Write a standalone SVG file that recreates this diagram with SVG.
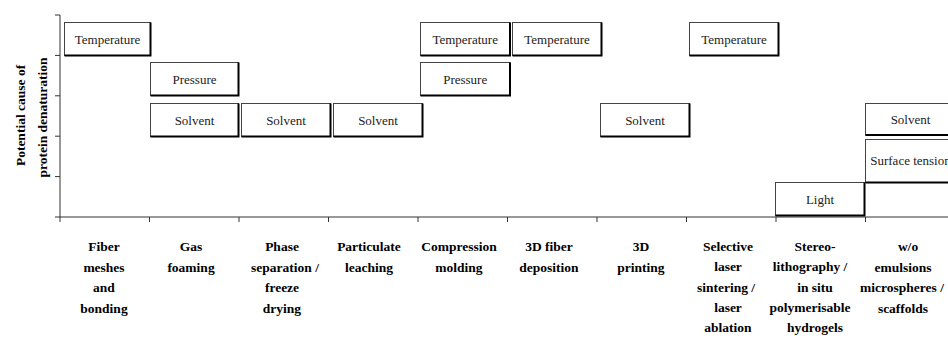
<svg xmlns="http://www.w3.org/2000/svg" width="948" height="340" viewBox="0 0 948 340" font-family="Liberation Serif, Times New Roman, DejaVu Serif, serif">
<style>
.bg{fill:#fff}
.box rect{fill:#fff;stroke:#444;stroke-width:1}
.box path{fill:none;stroke:#000;stroke-width:2}
.box text{font-size:13px;fill:#222;text-anchor:middle}
.axis line{stroke:#333;stroke-width:1}
.cat text{font-size:13.5px;font-weight:bold;fill:#000;text-anchor:middle}
.ylab{font-size:13.5px;font-weight:bold;fill:#000;text-anchor:middle}
</style>
<rect class="bg" x="0" y="0" width="948" height="340"/>
<g id="axes" class="axis">
<line x1="60" y1="15" x2="60" y2="217"/>
<line x1="60" y1="217" x2="948" y2="217"/>
<line x1="55" y1="15" x2="60" y2="15"/>
<line x1="55" y1="55.4" x2="60" y2="55.4"/>
<line x1="55" y1="95.8" x2="60" y2="95.8"/>
<line x1="55" y1="136.2" x2="60" y2="136.2"/>
<line x1="55" y1="176.6" x2="60" y2="176.6"/>
<line x1="55" y1="217" x2="60" y2="217"/>
<line x1="60" y1="217" x2="60" y2="222"/>
<line x1="149.5" y1="217" x2="149.5" y2="222"/>
<line x1="239" y1="217" x2="239" y2="222"/>
<line x1="328.5" y1="217" x2="328.5" y2="222"/>
<line x1="418" y1="217" x2="418" y2="222"/>
<line x1="507.5" y1="217" x2="507.5" y2="222"/>
<line x1="597" y1="217" x2="597" y2="222"/>
<line x1="686.5" y1="217" x2="686.5" y2="222"/>
<line x1="776" y1="217" x2="776" y2="222"/>
<line x1="865.5" y1="217" x2="865.5" y2="222"/>
</g>
<g id="ylabel" font-family="Liberation Serif, serif">
<text class="ylab" transform="translate(25,115.5) rotate(-90)">Potential cause of</text>
<text class="ylab" transform="translate(46.5,117.5) rotate(-90)">protein denaturation</text>
</g>
<g id="connectors"></g>
<g id="n-temp1" class="box"><rect x="64.5" y="22.5" width="86" height="33"/><path d="M64.5 55.5H150.5V22.5"/><text x="107.5" y="43.5">Temperature</text></g>
<g id="n-press1" class="box"><rect x="150.5" y="62.5" width="88" height="33"/><path d="M150.5 95.5H238.5V62.5"/><text x="194.5" y="83.5">Pressure</text></g>
<g id="n-solv1" class="box"><rect x="150.5" y="103.5" width="88" height="33"/><path d="M150.5 136.5H238.5V103.5"/><text x="194.5" y="124.5">Solvent</text></g>
<g id="n-solv2" class="box"><rect x="241.5" y="103.5" width="89" height="33"/><path d="M241.5 136.5H330.5V103.5"/><text x="286" y="124.5">Solvent</text></g>
<g id="n-solv3" class="box"><rect x="333.5" y="103.5" width="89" height="33"/><path d="M333.5 136.5H422.5V103.5"/><text x="378" y="124.5">Solvent</text></g>
<g id="n-temp2" class="box"><rect x="420.5" y="22.5" width="89.5" height="33"/><path d="M420.5 55.5H510V22.5"/><text x="465.2" y="43.5">Temperature</text></g>
<g id="n-press2" class="box"><rect x="420.5" y="62.5" width="89.5" height="33"/><path d="M420.5 95.5H510V62.5"/><text x="465.2" y="83.5">Pressure</text></g>
<g id="n-temp3" class="box"><rect x="512.5" y="22.5" width="89" height="33"/><path d="M512.5 55.5H601.5V22.5"/><text x="557" y="43.5">Temperature</text></g>
<g id="n-solv4" class="box"><rect x="600.5" y="103.5" width="89" height="33"/><path d="M600.5 136.5H689.5V103.5"/><text x="645" y="124.5">Solvent</text></g>
<g id="n-temp4" class="box"><rect x="689.5" y="22.5" width="89" height="33"/><path d="M689.5 55.5H778.5V22.5"/><text x="734" y="43.5">Temperature</text></g>
<g id="n-light" class="box"><rect x="775.5" y="182.5" width="89" height="33"/><path d="M775.5 215.5H864.5V182.5"/><text x="820" y="203.5">Light</text></g>
<g id="n-solv5" class="box"><rect x="865.5" y="103.5" width="90" height="31.5"/><path d="M865.5 135H955.5V103.5"/><text x="910.5" y="123.5">Solvent</text></g>
<g id="n-surf" class="box"><rect x="865.5" y="139.5" width="90" height="43"/><path d="M865.5 182.5H955.5V139.5"/><text x="910.5" y="165">Surface tension</text></g>
<g id="categories" class="cat">
<text x="104" y="251"><tspan x="104">Fiber</tspan><tspan x="104" dy="20.5">meshes</tspan><tspan x="104" dy="20.5">and</tspan><tspan x="104" dy="20.5">bonding</tspan></text>
<text x="191" y="251"><tspan x="191">Gas</tspan><tspan x="191" dy="20.5">foaming</tspan></text>
<text x="282" y="251"><tspan x="282">Phase</tspan><tspan x="285" dy="20.5">separation /</tspan><tspan x="282" dy="20.5">freeze</tspan><tspan x="282" dy="20.5">drying</tspan></text>
<text x="369" y="251"><tspan x="369">Particulate</tspan><tspan x="369" dy="20.5">leaching</tspan></text>
<text x="459" y="251"><tspan x="459">Compression</tspan><tspan x="459" dy="20.5">molding</tspan></text>
<text x="549" y="251"><tspan x="549">3D fiber</tspan><tspan x="549" dy="20.5">deposition</tspan></text>
<text x="641" y="251"><tspan x="641">3D</tspan><tspan x="641" dy="20.5">printing</tspan></text>
<text x="728" y="251"><tspan x="728">Selective</tspan><tspan x="728" dy="20.3">laser</tspan><tspan x="726" dy="20.3">sintering /</tspan><tspan x="728" dy="20.3">laser</tspan><tspan x="728" dy="20.3">ablation</tspan></text>
<text x="815" y="251"><tspan x="815">Stereo-</tspan><tspan x="810" dy="20.3">lithography /</tspan><tspan x="815" dy="20.3">in situ</tspan><tspan x="810" dy="20.3">polymerisable</tspan><tspan x="815" dy="20.3">hydrogels</tspan></text>
<text x="904" y="251"><tspan x="908">w/o</tspan><tspan x="903" dy="20.5">emulsions</tspan><tspan x="902" dy="20.5">microspheres /</tspan><tspan x="903" dy="20.5">scaffolds</tspan></text>
</g>
</svg>
